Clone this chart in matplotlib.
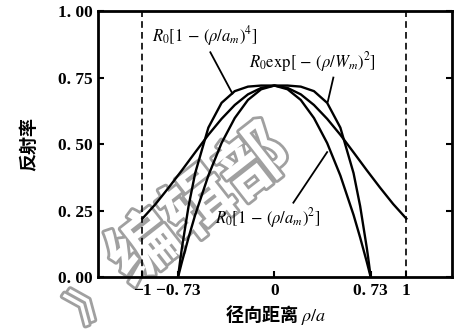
import matplotlib
matplotlib.use('Agg')
import matplotlib.pyplot as plt
import matplotlib.patheffects as pe

plt.rcParams['font.family'] = ['Liberation Serif', 'Noto Sans CJK SC']
plt.rcParams['mathtext.fontset'] = 'stix'

# ---- data -------------------------------------------------------------
# R0[1-(rho/a_m)^2]  (parabola, zero at +-0.73)
rho_par = [-0.73, -0.70, -0.65, -0.60, -0.50, -0.40, -0.30, -0.20, -0.10, 0.00,
           0.10, 0.20, 0.30, 0.40, 0.50, 0.60, 0.65, 0.70, 0.73]
r_par = [0.00, 0.058, 0.149, 0.234, 0.382, 0.504, 0.598, 0.666, 0.706, 0.72,
         0.706, 0.666, 0.598, 0.504, 0.382, 0.234, 0.149, 0.058, 0.00]

# R0[1-(rho/a_m)^4]  (flat top, zero at +-0.73)
rho_qua = [-0.73, -0.71, -0.70, -0.65, -0.60, -0.50, -0.40, -0.30, -0.20, -0.10, 0.00,
           0.10, 0.20, 0.30, 0.40, 0.50, 0.60, 0.65, 0.70, 0.71, 0.73]
r_qua = [0.00, 0.076, 0.111, 0.267, 0.391, 0.562, 0.655, 0.699, 0.716, 0.720, 0.72,
         0.720, 0.716, 0.699, 0.655, 0.562, 0.391, 0.267, 0.111, 0.076, 0.00]

# R0 exp[-(rho/W_m)^2]  (ends at rho = +-1)
rho_gau = [-1.00, -0.90, -0.80, -0.70, -0.60, -0.50, -0.40, -0.30, -0.20, -0.10, 0.00,
           0.10, 0.20, 0.30, 0.40, 0.50, 0.60, 0.70, 0.80, 0.90, 1.00]
r_gau = [0.220, 0.275, 0.337, 0.402, 0.469, 0.535, 0.595, 0.647, 0.687, 0.711, 0.72,
         0.711, 0.687, 0.647, 0.595, 0.535, 0.469, 0.402, 0.337, 0.275, 0.220]

x_ticks = [-1, -0.73, 0, 0.73, 1]
x_labels = ['\u22121', '\u22120. 73', '0', '0. 73', '1']
y_ticks = [0, 0.25, 0.5, 0.75, 1.0]
y_labels = ['0. 00', '0. 25', '0. 50', '0. 75', '1. 00']

fig = plt.figure(figsize=(4.63, 3.34), dpi=100)
ax = fig.add_axes([0.212, 0.170, 0.764, 0.797])
ax.patch.set_alpha(0)

# watermark (hollow grey characters, behind the curves)
hollow = [pe.withStroke(linewidth=4, foreground='#a0a0a0')]
fig.text(0.208, 0.150, '编辑部', rotation=38, fontsize=50, color='white',
         family=['Noto Sans CJK SC'], fontweight='bold', zorder=-1,
         path_effects=hollow)
fig.text(0.135, 0.035, '》', rotation=38, fontsize=30, color='white',
         family=['Noto Sans CJK SC'], fontweight='bold', zorder=-1,
         path_effects=hollow)

lw = 1.7
ax.plot(rho_par, r_par, color='black', lw=lw, zorder=3)
ax.plot(rho_qua, r_qua, color='black', lw=lw, zorder=3)
ax.plot(rho_gau, r_gau, color='black', lw=lw, zorder=3)

ax.axvline(-1, color='black', ls=(0, (4, 2.5)), lw=1.2, zorder=2)
ax.axvline(1, color='black', ls=(0, (4, 2.5)), lw=1.2, zorder=2)

# labels with pointer lines
ax.text(-0.93, 0.905, r'$R_0[1\,-\,(\rho/a_m)^4]$', fontsize=12, ha='left', va='center')
ax.plot([-0.485, -0.318], [0.845, 0.690], color='black', lw=1.3)

ax.text(-0.19, 0.808, r'$R_0\mathrm{exp}[\,-\,(\rho/W_m)^2]$', fontsize=12,
        ha='left', va='center')
ax.plot([0.447, 0.405], [0.750, 0.660], color='black', lw=1.3)

ax.text(-0.45, 0.223, r'$R_0[1\,-\,(\rho/a_m)^2]$', fontsize=12, ha='left', va='center')
ax.plot([0.144, 0.40], [0.280, 0.470], color='black', lw=1.3)

ax.set_xlim(-1.335, 1.345)
ax.set_ylim(0, 1.0)
ax.set_xticks(x_ticks)
ax.set_xticklabels(x_labels, fontsize=12.5, fontweight='bold')
ax.set_yticks(y_ticks)
ax.set_yticklabels(y_labels, fontsize=12.5, fontweight='bold')
ax.tick_params(direction='in', length=4, width=1.5, right=True, pad=4)
for s in ax.spines.values():
    s.set_linewidth(2.0)

ax.set_ylabel('反射率', family=['Noto Sans CJK SC'], fontweight='bold',
              fontsize=13, labelpad=14)
ax.set_xlabel(r'径向距离 $\rho/a$', family=['Noto Sans CJK SC'], fontweight='bold',
              fontsize=13, labelpad=3)

fig.savefig('out.png', dpi=100, facecolor='white')
